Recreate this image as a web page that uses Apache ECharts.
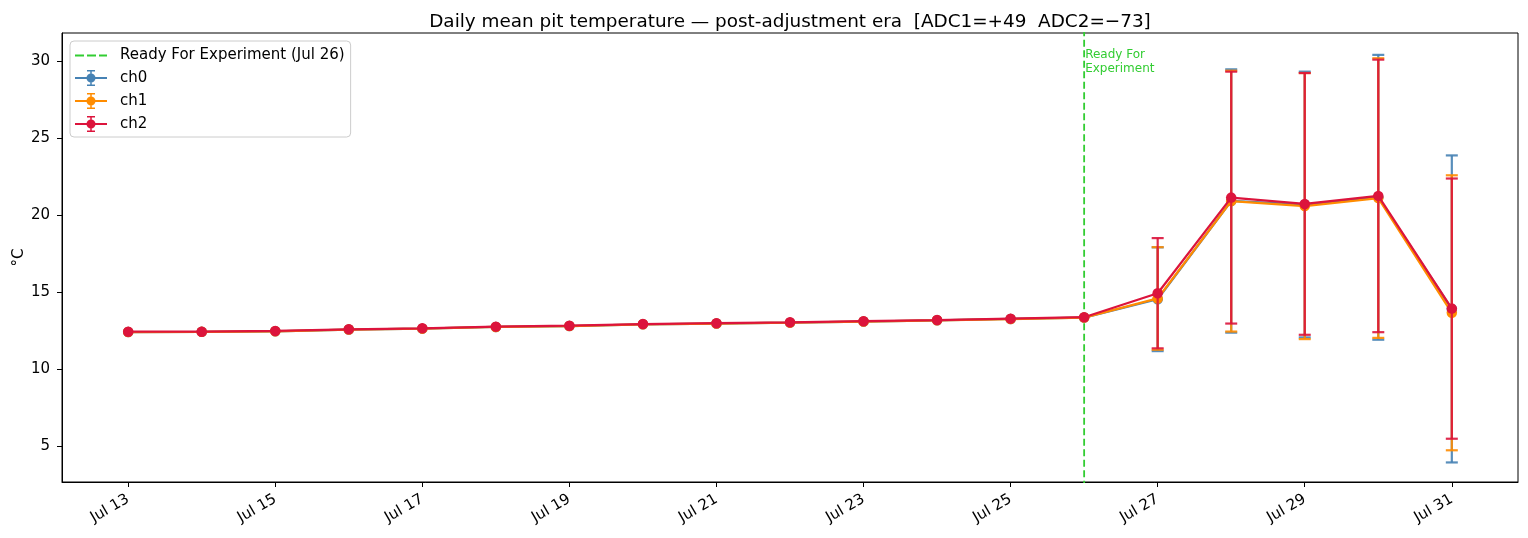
<!DOCTYPE html>
<html>
<head>
<meta charset="utf-8">
<script src="https://cdn.jsdelivr.net/npm/echarts@6/dist/echarts.min.js"></script>
<style>html,body{margin:0;padding:0;background:#fff}#c{width:1528px;height:538px}</style>
</head>
<body>
<div id="c"></div>
<script>
// Day of July
const days = [13,14,15,16,17,18,19,20,21,22,23,24,25,26,27,28,29,30,31];
const tickDays = [13,15,17,19,21,23,25,27,29,31];
const yTicks = [5,10,15,20,25,30];
const readyDay = 26;

const ch0Mean = [12.40,12.41,12.45,12.56,12.62,12.73,12.79,12.90,12.95,13.01,13.08,13.16,13.25,13.34,14.53,20.91,20.68,21.15,13.90];
const ch1Mean = [12.40,12.41,12.45,12.56,12.62,12.73,12.79,12.90,12.95,13.01,13.08,13.16,13.24,13.34,14.58,20.90,20.58,21.10,13.65];
const ch2Mean = [12.42,12.42,12.47,12.58,12.64,12.75,12.81,12.92,12.97,13.03,13.10,13.18,13.27,13.36,14.92,21.13,20.72,21.24,13.92];

const ch0Std = [0,0,0,0,0,0,0,0,0,0,0,0,0,0,3.37,8.55,8.63,9.25,9.97];
const ch1Std = [0,0,0,0,0,0,0,0,0,0,0,0,0,0,3.33,8.47,8.64,9.08,8.93];
const ch2Std = [0,0,0,0,0,0,0,0,0,0,0,0,0,0,3.58,8.18,8.50,8.85,8.45];

const FONT = 'DejaVu Sans';
const channels = [
  {name:'ch0', color:'#4682B4', mean:ch0Mean, std:ch0Std},
  {name:'ch1', color:'#FF8C00', mean:ch1Mean, std:ch1Std},
  {name:'ch2', color:'#DC143C', mean:ch2Mean, std:ch2Std}
];

const ebIcon = 'path://M0,7h32v2h-32z M11.5,8a4.5,4.5 0 1,1 9,0a4.5,4.5 0 1,1 -9,0z M15.25,1h1.5v14h-1.5z M12,0h8v1.6h-8z M12,14.4h8v1.6h-8z';
const dashIcon = 'path://M0,0h9v2h-9z M12,0h9v2h-9z M24,0h8v2h-8z';

const series = [];
series.push({
  name:'Ready For Experiment (Jul 26)',
  type:'line',
  data:[[readyDay,-100],[readyDay,100]],
  symbol:'none',
  color:'#32CD32',
  lineStyle:{color:'#32CD32', width:1.8, type:[7,3.5]},
  z:1,
  silent:true,
  markPoint:{
    symbol:'circle', symbolSize:0,
    data:[{coord:[readyDay, 29.95]}],
    label:{show:true, formatter:'Ready For\nExperiment', position:'right', distance:1,
      color:'#32CD32', fontFamily:FONT, fontSize:12, lineHeight:14, align:'left'}
  }
});
channels.forEach((c,i)=>{
  const ebData = [];
  days.forEach((d,k)=>{ if (c.std[k] > 0) ebData.push([d, c.mean[k]-c.std[k], c.mean[k]+c.std[k]]); });
  series.push({
    name:c.name+'_err',
    type:'custom',
    z:2+i*2,
    silent:true,
    data:ebData,
    encode:{x:0,y:[1,2]},
    renderItem:function(params, api){
      const lo = api.coord([api.value(0), api.value(1)]);
      const hi = api.coord([api.value(0), api.value(2)]);
      const w = 6;
      const st = {stroke:c.color, lineWidth:2.2, opacity:0.9};
      return {type:'group', children:[
        {type:'line', shape:{x1:lo[0],y1:lo[1],x2:hi[0],y2:hi[1]}, style:st},
        {type:'line', shape:{x1:lo[0]-w,y1:lo[1],x2:lo[0]+w,y2:lo[1]}, style:st},
        {type:'line', shape:{x1:hi[0]-w,y1:hi[1],x2:hi[0]+w,y2:hi[1]}, style:st}
      ]};
    }
  });
  series.push({
    name:c.name,
    type:'line',
    z:3+i*2,
    data:days.map((d,k)=>[d, c.mean[k]]),
    color:c.color,
    symbol:'circle',
    symbolSize:10.5,
    showSymbol:true,
    itemStyle:{color:c.color},
    lineStyle:{color:c.color, width:2.25},
    emphasis:{disabled:true}
  });
});

const chart = echarts.init(document.getElementById('c'));
chart.setOption({
  animation:false,
  backgroundColor:'#fff',
  title:{
    text:'Daily mean pit temperature \u2014 post-adjustment era  [ADC1=+49  ADC2=\u221273]',
    left:785, top:8, textAlign:'center',
    textStyle:{fontFamily:FONT, fontSize:18.4, fontWeight:'normal', color:'#000'}
  },
  legend:{
    orient:'vertical', left:70, top:41,
    padding:[7,6,5,5],
    itemGap:7,
    itemWidth:32, itemHeight:16,
    backgroundColor:'rgba(255,255,255,0.8)',
    borderColor:'#cccccc', borderWidth:1, borderRadius:4,
    textStyle:{fontFamily:FONT, fontSize:15, color:'#000', padding:[0,0,0,8]},
    itemStyle:{borderWidth:0},
    data:[
      {name:'Ready For Experiment (Jul 26)', icon:dashIcon},
      {name:'ch0', icon:ebIcon},
      {name:'ch1', icon:ebIcon},
      {name:'ch2', icon:ebIcon}
    ]
  },
  grid:{left:62, right:10, top:33, bottom:56, show:true, borderColor:'#000', borderWidth:1, backgroundColor:'transparent', outerBoundsMode:'none', containLabel:false},
  xAxis:{
    type:'value', min:12.1, max:31.9,
    axisLine:{show:true, onZero:false, lineStyle:{color:'#000', width:1}},
    splitLine:{show:false},
    axisTick:{show:true, length:5, lineStyle:{color:'#000'}, customValues:tickDays},
    axisLabel:{customValues:tickDays, rotate:30, margin:16, fontFamily:FONT, fontSize:15, color:'#000',
      formatter:v=>'Jul '+Math.round(v)}
  },
  yAxis:{
    type:'value', min:2.66, max:31.82,
    name:'\u00b0C', nameLocation:'middle', nameGap:35, nameRotate:90, nameMoveOverlap:false,
    nameTextStyle:{fontFamily:FONT, fontSize:15, color:'#000'},
    axisLine:{show:true, lineStyle:{color:'#000', width:1}},
    splitLine:{show:false},
    axisTick:{show:true, length:5, lineStyle:{color:'#000'}, customValues:yTicks},
    axisLabel:{customValues:yTicks, margin:12, fontFamily:FONT, fontSize:15, color:'#000'}
  },
  series:series
});
</script>
</body>
</html>
